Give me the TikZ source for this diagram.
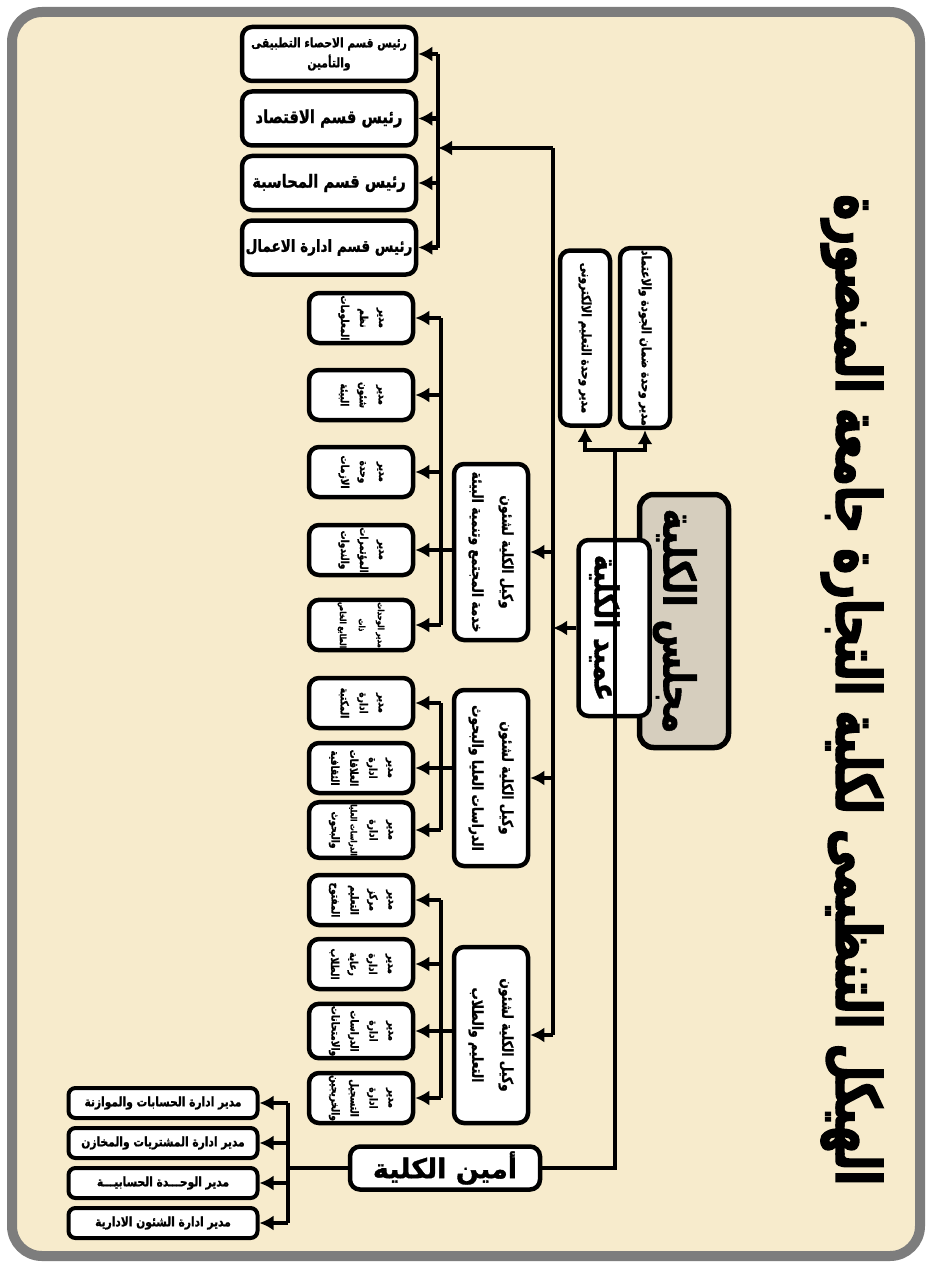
\documentclass[tikz,border=0pt]{standalone}
\usepackage{fontspec}
\newfontfamily\arabicfont[Script=Arabic,FakeStretch=0.82,FakeBold=1.2]{DejaVu Sans}
\newfontfamily\arabicwide[Script=Arabic,FakeBold=1.2]{DejaVu Sans}
\newfontfamily\arabictitle[Script=Arabic,FakeStretch=0.7,FakeBold=2.5]{DejaVu Sans}
\TeXXeTstate=1
\usetikzlibrary{positioning,arrows.meta}
\newcommand{\rtl}[1]{\beginR #1\endR}
\definecolor{papel}{RGB}{247,235,204}
\definecolor{marco}{RGB}{125,125,125}
\definecolor{consejo}{RGB}{214,206,190}

\begin{document}
\begin{tikzpicture}[x=1pt,y=-1pt,
    caja/.style={draw,line width=4.5pt,rounded corners=10pt,fill=white,align=center,inner sep=2pt,font=\arabicfont\bfseries}, %caja base
    cajav/.style={caja,rotate=-90}, %caja con el texto girado
    hijo/.style={cajav,minimum width=50pt,minimum height=104pt,font=\arabicfont\bfseries\fontsize{11}{19}\selectfont},
    depto/.style={caja,minimum width=174pt,minimum height=54pt,font=\arabicfont\bfseries\fontsize{18}{22}\selectfont},
    admin/.style={caja,line width=4pt,rounded corners=7pt,minimum width=189pt,minimum height=30pt,inner sep=1pt,font=\arabicfont\bfseries\fontsize{13}{15}\selectfont},
    vice/.style={cajav,minimum width=176pt,minimum height=74pt,font=\arabicfont\bfseries\fontsize{15}{30}\selectfont},
    calidad/.style={cajav,minimum width=175pt,minimum height=50pt,font=\arabicfont\bfseries\fontsize{13}{15}\selectfont},
    linea/.style={line width=4.5pt},
    flecha/.style={line width=4.5pt,-{Latex[length=14pt,width=15pt]}}]

    \useasboundingbox (0,0) rectangle (932,1268);
    %marco y fondo
    \fill[white] (0,0) rectangle (932,1268);
    \draw[line width=10pt,draw=marco,fill=papel,rounded corners=30pt] (12,12) rectangle (920,1256);

    \node[rotate=-90,font=\arabictitle\bfseries\fontsize{62}{70}\selectfont] (titulo) at (852,690) {\rtl{الهيكل التنظيمى لكلية التجارة جامعة المنصورة}};

    %arriba del todo
    \node[cajav,line width=5.5pt,rounded corners=14pt,fill=consejo,minimum width=253pt,minimum height=89pt,text height=44pt,text depth=3pt,font=\arabicfont\bfseries\fontsize{44}{50}\selectfont] (consejo) at (684,621) {\rtl{مجلس الكلية}};
    \node[cajav,minimum width=176pt,minimum height=71pt,text height=40pt,text depth=1pt,font=\arabicfont\bfseries\fontsize{33}{40}\selectfont] (decano) at (614,628) {\rtl{عميد الكلية}};

    \node[calidad] (q1) at (585,338) {\rtl{مدير وحدة التعليم الالكترونى}};
    \node[calidad] (q2) at (645,338) {\rtl{مدير وحدة ضمان الجودة والاعتماد}};

    %departamentos
    \node[depto,font=\arabicfont\bfseries\fontsize{13}{20}\selectfont] (d1) at (329,54) {\rtl{رئيس قسم الاحصاء التطبيقى}\\\rtl{والتأمين}};
    \node[depto,below=6pt of d1] (d2) {\rtl{رئيس قسم الاقتصاد}};
    \node[depto,below=6pt of d2] (d3) {\rtl{رئيس قسم المحاسبة}};
    \node[depto,below=6pt of d3,font=\arabicfont\bfseries\fontsize{16.5}{20}\selectfont] (d4) {\rtl{رئيس قسم ادارة الاعمال}};

    %vicedecanos
    \node[vice] (v1) at (491,552) {\rtl{وكيل الكلية لشئون}\\\rtl{خدمة المجتمع وتنمية البيئة}};
    \node[vice] (v2) at (491,778) {\rtl{وكيل الكلية لشئون}\\\rtl{الدراسات العليا والبحوث}};
    \node[vice] (v3) at (491,1035) {\rtl{وكيل الكلية لشئون}\\\rtl{التعليم والطلاب}};

    \node[hijo] (h11) at (361,318) {\rtl{مدير}\\\rtl{نظم}\\\rtl{المعلومات}};
    \node[hijo] (h12) at (361,395) {\rtl{مدير}\\\rtl{شئون}\\\rtl{البيئة}};
    \node[hijo] (h13) at (361,472) {\rtl{مدير}\\\rtl{وحدة}\\\rtl{الازمات}};
    \node[hijo] (h14) at (361,550) {\rtl{مدير}\\\rtl{المؤتمرات}\\\rtl{والندوات}};
    \node[hijo,font=\arabicfont\bfseries\fontsize{8.5}{19}\selectfont] (h15) at (361,625) {\rtl{مدير الوحدات}\\\rtl{ذات}\\\rtl{الطابع الخاص}};

    \node[hijo] (h21) at (361,703) {\rtl{مدير}\\\rtl{ادارة}\\\rtl{المكتبة}};
    \node[hijo] (h22) at (361,768) {\rtl{مدير}\\\rtl{ادارة}\\\rtl{العلاقات}\\\rtl{الثقافية}};
    \node[hijo] (h23) at (361,830) {\rtl{مدير}\\\rtl{ادارة}\\\rtl{\fontsize{8.5}{19}\selectfont الدراسات العليا}\\\rtl{والبحوث}};

    \node[hijo] (h31) at (361,900) {\rtl{مدير}\\\rtl{مركز}\\\rtl{التعليم}\\\rtl{المفتوح}};
    \node[hijo] (h32) at (361,964) {\rtl{مدير}\\\rtl{ادارة}\\\rtl{رعاية}\\\rtl{الطلاب}};
    \node[hijo] (h33) at (361,1031) {\rtl{مدير}\\\rtl{ادارة}\\\rtl{الدراسات}\\\rtl{والامتحانات}};
    \node[hijo] (h34) at (361,1098) {\rtl{مدير}\\\rtl{ادارة}\\\rtl{التسجيل}\\\rtl{والخريجين}};

    %secretario y sus direcciones
    \node[caja,minimum width=190pt,minimum height=43pt,font=\arabicwide\bfseries\fontsize{27}{30}\selectfont] (amin) at (445,1168) {\rtl{أمين الكلية}};
    \node[admin] (a1) at (163,1103) {\rtl{مدير ادارة الحسابات والموازنة}};
    \node[admin,below=6pt of a1] (a2) {\rtl{مدير ادارة المشتريات والمخازن}};
    \node[admin,below=6pt of a2] (a3) {\rtl{مدير الوحـــدة الحسابيـــة}};
    \node[admin,below=6pt of a3] (a4) {\rtl{مدير ادارة الشئون الادارية}};

    %puntos de las barras
    \coordinate (qs) at (615,450);
    \coordinate (qa) at (615,1168);
    \coordinate (bt) at (553,148);
    \coordinate (bx) at (553,0);
    \coordinate (dx) at (438,0);
    \coordinate (hx) at (441,0);
    \coordinate (ax) at (288,0);

    %caminos
    \draw[linea] (qs) -- (qa) -- (amin.east);
    \draw[flecha] (qs) -| (q1.east);
    \draw[flecha] (qs) -| (q2.east);
    \draw[linea] (bt) -- (v3.north -| bx);
    \draw[flecha] (decano.south) -- (decano.south -| bx);
    \draw[flecha] (bt) -- (bt -| dx);
    \draw[linea] (d1.east -| dx) -- (d4.east -| dx);
    \foreach \d in {d1,d2,d3,d4}
        \draw[flecha] (\d.east -| dx) -- (\d.east);
    \foreach \v in {v1,v2,v3}
        \draw[flecha] (\v.north -| bx) -- (\v.north);

    \draw[linea] (v1.south |- h14) -- (h14.north -| hx);
    \draw[linea] (h11.north -| hx) -- (h15.north -| hx);
    \foreach \h in {h11,h12,h13,h14,h15}
        \draw[flecha] (\h.north -| hx) -- (\h.north);

    \draw[linea] (v2.south |- h22) -- (h22.north -| hx);
    \draw[linea] (h21.north -| hx) -- (h23.north -| hx);
    \foreach \h in {h21,h22,h23}
        \draw[flecha] (\h.north -| hx) -- (\h.north);

    \draw[linea] (v3.south |- h33) -- (h33.north -| hx);
    \draw[linea] (h31.north -| hx) -- (h34.north -| hx);
    \foreach \h in {h31,h32,h33,h34}
        \draw[flecha] (\h.north -| hx) -- (\h.north);

    \draw[linea] (amin.west) -- (amin.west -| ax);
    \draw[linea] (a1.east -| ax) -- (a4.east -| ax);
    \foreach \a in {a1,a2,a3,a4}
        \draw[flecha] (\a.east -| ax) -- (\a.east);
\end{tikzpicture}
\end{document}
